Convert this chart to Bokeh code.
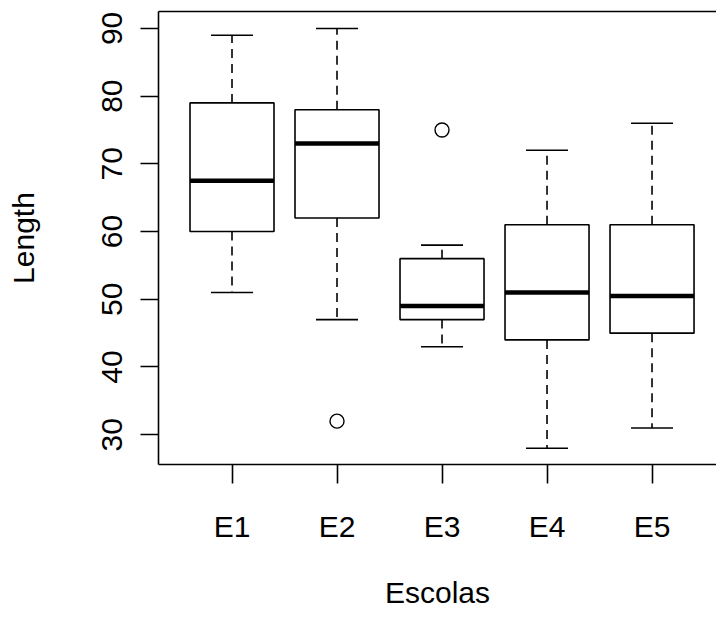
from bokeh.plotting import figure
from bokeh.models import FixedTicker, LinearAxis, Range1d
from bokeh.embed import file_html
from bokeh.resources import INLINE

# Data
schools = ["E1", "E2", "E3", "E4", "E5"]
pos = [1, 2, 3, 4, 5]
lower_whisker = [51, 47, 43, 28, 31]
q1 = [60, 62, 47, 44, 45]
median = [67.5, 73, 49, 51, 50.5]
q3 = [79, 78, 56, 61, 61]
upper_whisker = [89, 90, 58, 72, 76]
outlier_x = [2, 3]
outlier_y = [32, 75]
y_ticks = [30, 40, 50, 60, 70, 80, 90]

FONT = "Liberation Sans"
BOX_W = 0.8
CAP_W = 0.4
LW = 1.6

p = figure(width=716, height=611, output_backend="svg", toolbar_location=None,
           x_range=Range1d(0.3, 5.614), y_range=Range1d(25.6, 92.5),
           x_axis_location=None, y_axis_location=None,
           min_border_left=158, min_border_top=11, min_border_right=0,
           min_border_bottom=147)
p.outline_line_color = None
p.grid.visible = False
p.background_fill_color = "white"
p.border_fill_color = "white"

# whiskers
p.segment(x0=pos, y0=q3, x1=pos, y1=upper_whisker, line_color="black",
          line_width=LW, line_dash="9 6")
p.segment(x0=pos, y0=q1, x1=pos, y1=lower_whisker, line_color="black",
          line_width=LW, line_dash="9 6")
# caps
p.segment(x0=[x - CAP_W / 2 for x in pos], y0=upper_whisker,
          x1=[x + CAP_W / 2 for x in pos], y1=upper_whisker,
          line_color="black", line_width=LW)
p.segment(x0=[x - CAP_W / 2 for x in pos], y0=lower_whisker,
          x1=[x + CAP_W / 2 for x in pos], y1=lower_whisker,
          line_color="black", line_width=LW)
# boxes
p.vbar(x=pos, bottom=q1, top=q3, width=BOX_W, fill_color="white",
       line_color="black", line_width=LW)
# medians
p.segment(x0=[x - BOX_W / 2 for x in pos], y0=median,
          x1=[x + BOX_W / 2 for x in pos], y1=median,
          line_color="black", line_width=4.5, line_cap="butt")
# outliers
p.scatter(x=outlier_x, y=outlier_y, marker="circle", size=14,
          fill_color=None, line_color="black", line_width=1.4)

# axes
xa = LinearAxis(ticker=FixedTicker(ticks=pos),
                major_label_overrides={x: s for x, s in zip(pos, schools)},
                axis_label="Escolas")
xa.major_tick_out = 19
xa.major_tick_in = 0
xa.minor_tick_line_color = None
xa.major_label_standoff = 26
xa.axis_label_standoff = 30
xa.major_label_text_font = FONT
xa.major_label_text_font_size = "30px"
xa.axis_label_text_font = FONT
xa.axis_label_text_font_size = "30px"
xa.axis_label_text_font_style = "normal"
xa.major_label_text_color = "black"
xa.axis_label_text_color = "black"
xa.axis_line_width = LW
xa.major_tick_line_width = LW
p.add_layout(xa, "below")

ya = LinearAxis(ticker=FixedTicker(ticks=y_ticks), axis_label="Length")
ya.major_tick_out = 18
ya.major_tick_in = 0
ya.minor_tick_line_color = None
ya.major_label_orientation = "vertical"
ya.major_label_standoff = 18
ya.axis_label_standoff = 60
ya.major_label_text_font = FONT
ya.major_label_text_font_size = "30px"
ya.axis_label_text_font = FONT
ya.axis_label_text_font_size = "30px"
ya.axis_label_text_font_style = "normal"
ya.major_label_text_color = "black"
ya.axis_label_text_color = "black"
ya.axis_line_width = LW
ya.major_tick_line_width = LW
p.add_layout(ya, "left")

# top frame line (R box): an axis whose only tick lies outside the range
top = LinearAxis(ticker=FixedTicker(ticks=[50]))
top.major_tick_out = 0
top.major_tick_in = 0
top.minor_tick_line_color = None
top.major_label_standoff = 0
top.axis_line_width = LW
top.axis_line_color = "black"
p.add_layout(top, "above")

open("out.html", "w").write(file_html(p, INLINE))
